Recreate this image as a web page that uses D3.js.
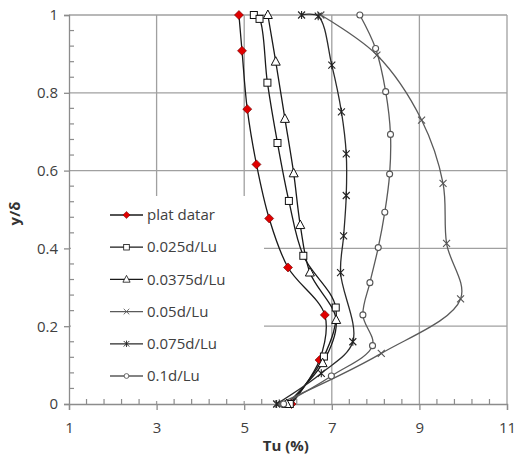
<!DOCTYPE html>
<html>
<head>
<meta charset="utf-8">
<script src="https://cdn.jsdelivr.net/npm/d3@7/dist/d3.min.js"></script>
<style>
  body { margin: 0; background: #fff; }
  text { font-family: "Open Sans", sans-serif; }
</style>
</head>
<body>
<svg id="chart"></svg>
<script>
// series values: Tu (%) and y/delta
const seriesNames = ["plat datar", "0.025d/Lu", "0.0375d/Lu", "0.05d/Lu", "0.075d/Lu", "0.1d/Lu"];

const platTu = [4.88, 4.95, 5.07, 5.28, 5.57, 6.00, 6.84, 6.72, 6.08];
const platY  = [1.0, 0.908, 0.758, 0.616, 0.477, 0.351, 0.229, 0.113, 0];

const d025Tu = [5.22, 5.35, 5.53, 5.76, 6.02, 6.35, 7.09, 6.82, 6.04];
const d025Y  = [1.0, 0.99, 0.826, 0.671, 0.522, 0.381, 0.248, 0.122, 0];

const d0375Tu = [5.54, 5.72, 5.93, 6.13, 6.28, 6.50, 7.10, 6.79, 5.97];
const d0375Y  = [1.0, 0.880, 0.733, 0.593, 0.460, 0.338, 0.216, 0.105, 0];

const d05Tu = [6.75, 8.03, 9.05, 9.54, 9.62, 9.94, 8.13, 5.78];
const d05Y  = [1.0, 0.897, 0.730, 0.567, 0.413, 0.270, 0.130, 0];

const d075Tu = [6.31, 6.69, 7.00, 7.22, 7.33, 7.33, 7.27, 7.20, 7.48, 6.76, 5.74];
const d075Y  = [1.0, 0.997, 0.871, 0.751, 0.643, 0.536, 0.432, 0.338, 0.160, 0.079, 0];

const d1Tu = [7.64, 8.00, 8.23, 8.34, 8.32, 8.21, 8.06, 7.87, 7.71, 7.93, 6.99, 5.90];
const d1Y  = [1.0, 0.914, 0.803, 0.693, 0.591, 0.493, 0.402, 0.312, 0.229, 0.150, 0.072, 0];

const xTicks = [1, 3, 5, 7, 9, 11];
const yTicks = [0, 0.2, 0.4, 0.6, 0.8, 1];

const W = 516, H = 457;
const margin = { top: 15, right: 9, bottom: 53, left: 69 };

const svg = d3.select("#chart").attr("width", W).attr("height", H);
const width = W - margin.left - margin.right;
const height = H - margin.top - margin.bottom;
const chart = svg.append("g").attr("transform", `translate(${margin.left},${margin.top})`);

const x = d3.scaleLinear().domain([1, 11]).range([0, width]);
const y = d3.scaleLinear().domain([0, 1]).range([height, 0]);

const gridColor = "#a0a0a0";

// gridlines
chart.append("g").selectAll("line").data(xTicks.slice(1)).join("line")
  .attr("x1", d => x(d)).attr("x2", d => x(d))
  .attr("y1", 0).attr("y2", height)
  .attr("stroke", gridColor).attr("stroke-width", 1.3);
chart.append("g").selectAll("line").data(yTicks.slice(1)).join("line")
  .attr("x1", 0).attr("x2", width)
  .attr("y1", d => y(d)).attr("y2", d => y(d))
  .attr("stroke", gridColor).attr("stroke-width", 1.3);

// legend background hides the grid behind it
chart.append("rect")
  .attr("x", 2).attr("y", 181)
  .attr("width", 193).attr("height", 205)
  .attr("fill", "#fff");

// axes
const xAxis = d3.axisBottom(x).tickValues(xTicks).tickSize(6).tickPadding(12);
const yAxis = d3.axisLeft(y).tickValues(yTicks).tickSize(5).tickFormat(d3.format("")).tickPadding(6);

const gx = chart.append("g").attr("transform", `translate(0,${height})`).call(xAxis);
const gy = chart.append("g").call(yAxis);
[gx, gy].forEach(g => {
  g.select(".domain").attr("stroke", "#8c8c8c").attr("stroke-width", 1.3);
  g.selectAll(".tick line").attr("stroke", "#8c8c8c").attr("stroke-width", 1.3);
  g.selectAll(".tick text").attr("font-size", 15).attr("fill", "#404040")
    .style("font-family", "'Open Sans', sans-serif");
});

// minor ticks (inside)
const xMinor = d3.range(1, 11.01, 0.4).filter(v => Math.abs((v - 1) % 2) > 0.01 && Math.abs((v - 1) % 2 - 2) > 0.01);
chart.append("g").selectAll("line").data(xMinor).join("line")
  .attr("x1", d => x(d)).attr("x2", d => x(d))
  .attr("y1", height).attr("y2", height - 5)
  .attr("stroke", "#8c8c8c").attr("stroke-width", 1.2);
const yMinor = d3.range(0, 1.001, 0.04).filter(v => Math.abs(v * 5 - Math.round(v * 5)) > 0.01);
chart.append("g").selectAll("line").data(yMinor).join("line")
  .attr("x1", 0).attr("x2", 5)
  .attr("y1", d => y(d)).attr("y2", d => y(d))
  .attr("stroke", "#8c8c8c").attr("stroke-width", 1.2);

// marker drawing
function drawMarker(g, type) {
  if (type === "diamond") {
    g.append("path").attr("d", "M0,-4.5L4.5,0L0,4.5L-4.5,0Z")
      .attr("fill", "#e00000").attr("stroke", "#600").attr("stroke-width", 0.6);
  } else if (type === "square") {
    g.append("rect").attr("x", -3.5).attr("y", -3.5).attr("width", 7).attr("height", 7)
      .attr("fill", "#fff").attr("stroke", "#111").attr("stroke-width", 1);
  } else if (type === "triangle") {
    g.append("path").attr("d", "M0,-5L4.5,3.5L-4.5,3.5Z")
      .attr("fill", "#fff").attr("stroke", "#111").attr("stroke-width", 1);
  } else if (type === "cross") {
    g.append("path").attr("d", "M-3.5,-3.5L3.5,3.5M-3.5,3.5L3.5,-3.5")
      .attr("stroke", "#555").attr("stroke-width", 1.1);
  } else if (type === "star") {
    g.append("path").attr("d", "M-3.5,-3.5L3.5,3.5M-3.5,3.5L3.5,-3.5M0,-4L0,4")
      .attr("stroke", "#222").attr("stroke-width", 1.1);
  } else if (type === "circle") {
    g.append("circle").attr("r", 3)
      .attr("fill", "#fff").attr("stroke", "#555").attr("stroke-width", 1.1);
  }
}

const series = [
  { name: seriesNames[0], tu: platTu, yy: platY, marker: "diamond", color: "#1a1a1a" },
  { name: seriesNames[1], tu: d025Tu, yy: d025Y, marker: "square", color: "#1a1a1a" },
  { name: seriesNames[2], tu: d0375Tu, yy: d0375Y, marker: "triangle", color: "#1a1a1a" },
  { name: seriesNames[3], tu: d05Tu, yy: d05Y, marker: "cross", color: "#5a5a5a" },
  { name: seriesNames[4], tu: d075Tu, yy: d075Y, marker: "star", color: "#2a2a2a" },
  { name: seriesNames[5], tu: d1Tu, yy: d1Y, marker: "circle", color: "#5a5a5a" }
];

const line = d3.line()
  .x(d => x(d[0])).y(d => y(d[1]))
  .curve(d3.curveCatmullRom.alpha(0.5));

series.forEach(s => {
  const pts = s.tu.map((v, i) => [v, s.yy[i]]);
  chart.append("path").datum(pts)
    .attr("d", line)
    .attr("fill", "none")
    .attr("stroke", s.color)
    .attr("stroke-width", 1.3);
});
// markers drawn after all lines
series.forEach(s => {
  s.tu.forEach((v, i) => {
    const g = chart.append("g").attr("transform", `translate(${x(v)},${y(s.yy[i])})`);
    drawMarker(g, s.marker);
  });
});

// legend
const legend = chart.append("g").attr("transform", "translate(41,200)");
series.forEach((s, i) => {
  const row = legend.append("g").attr("transform", `translate(0,${i * 32.2})`);
  row.append("line").attr("x1", 0).attr("x2", 33).attr("y1", 0).attr("y2", 0)
    .attr("stroke", s.color).attr("stroke-width", 1.3);
  drawMarker(row.append("g").attr("transform", "translate(16.5,0) scale(0.8)"), s.marker);
  row.append("text").attr("x", 37).attr("y", 0).attr("dy", "0.35em")
    .attr("font-size", 15).attr("fill", "#404040").text(s.name);
});

// axis titles
svg.append("text")
  .attr("x", margin.left + x(5.95)).attr("y", 451)
  .attr("text-anchor", "middle").attr("font-size", 15).attr("font-weight", "bold")
  .attr("fill", "#333").text("Tu (%)");
svg.append("text")
  .attr("transform", `translate(20,${margin.top + y(0.49)}) rotate(-90)`)
  .attr("text-anchor", "middle").attr("font-size", 15).attr("font-weight", "bold")
  .attr("fill", "#333").text("y/δ");
</script>
</body>
</html>
